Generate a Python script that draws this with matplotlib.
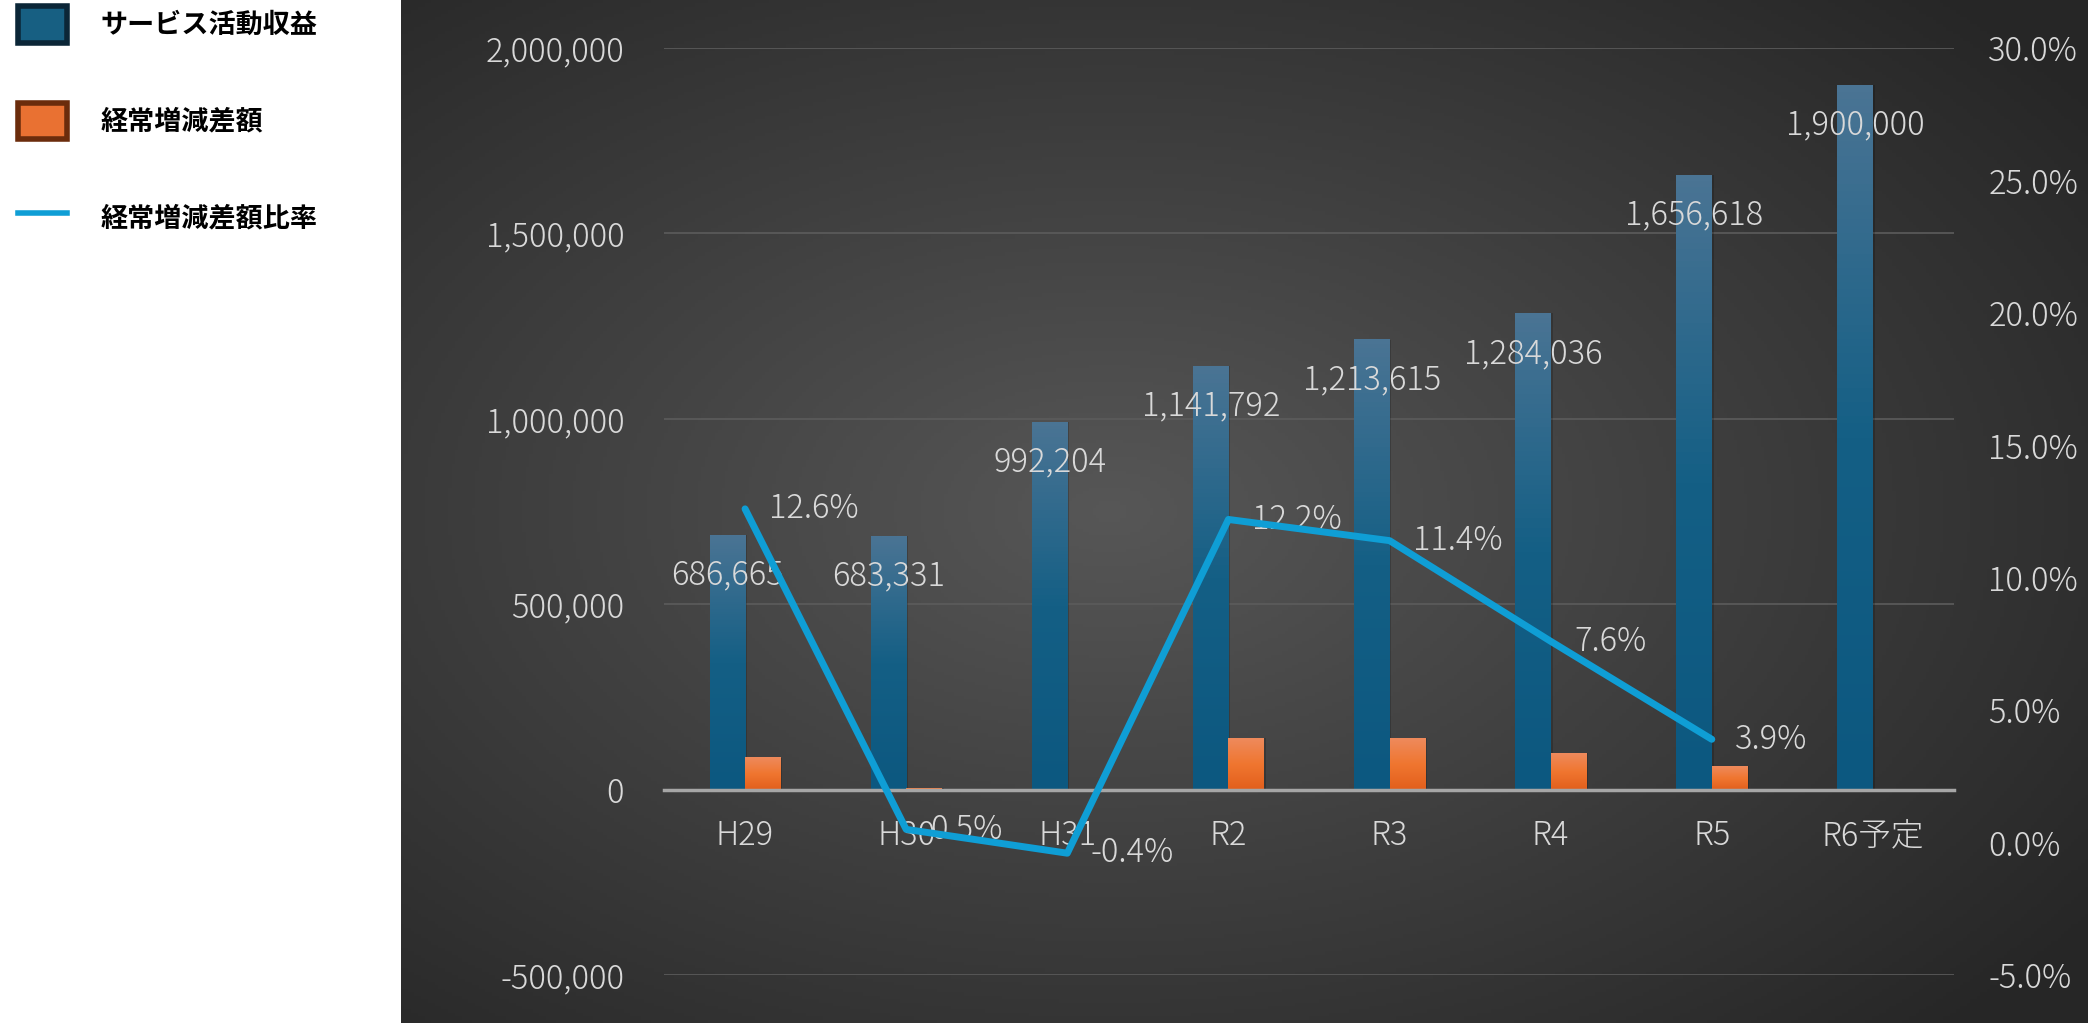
import numpy as np
import matplotlib.pyplot as plt
from matplotlib.colors import LinearSegmentedColormap
from matplotlib.lines import Line2D
from matplotlib.patches import Patch

plt.rcParams['font.family'] = ['Noto Sans CJK JP', 'DejaVu Sans']

# data
categories = ['H29', 'H30', 'H31', 'R2', 'R3', 'R4', 'R5', 'R6予定']
revenue = [686665, 683331, 992204, 1141792, 1213615, 1284036, 1656618, 1900000]
diff = [86500, 3400, -4000, 139300, 138400, 97600, 64600]
ratio = [12.6, 0.5, -0.4, 12.2, 11.4, 7.6, 3.9]
legend_labels = ['サービス活動収益', '経常増減差額', '経常増減差額比率']

W, H = 2088, 1023
fig = plt.figure(figsize=(W / 100, H / 100), dpi=100)
fig.patch.set_facecolor('white')

# dark radial background panel
bx0 = 401 / W
bg = fig.add_axes([bx0, 0, 1 - bx0, 1])
bg.set_axis_off()
yy, xx = np.mgrid[0:1:300j, 0:1:500j]
r = np.sqrt(((xx - 0.42) / 0.75) ** 2 + ((yy - 0.5) / 0.75) ** 2)
shade = np.clip(0.34 - 0.2 * r, 0.15, 0.34)
bg.imshow(np.dstack([shade] * 3), aspect='auto', extent=[0, 1, 0, 1])

ax = fig.add_axes([499 / 1568, 36 / 768, (1467 - 499) / 1568, (732 - 36) / 768])
ax.patch.set_alpha(0)
ax2 = ax.twinx()

x = np.arange(len(categories))
bw = 0.22
txt = '#D9D9D9'
fs = 23.5
fw = 'light'

blue_cmap = LinearSegmentedColormap.from_list('b', ['#0C5880', '#145F85', '#4A7494'])
orange_cmap = LinearSegmentedColormap.from_list('o', ['#E25F1C', '#F07630', '#EE8A5C'])
grad = np.linspace(0, 1, 100).reshape(-1, 1)

def grad_bar(xc, h, cmap):
    y0, y1 = (0, h) if h >= 0 else (h, 0)
    # soft shadow
    ax.bar(xc + 0.012, h, bw, color='black', alpha=0.18, zorder=2, linewidth=0)
    ax.imshow(grad, cmap=cmap, origin='lower', aspect='auto', zorder=3,
              extent=[xc - bw / 2, xc + bw / 2, y0, y1])

for i, v in enumerate(revenue):
    grad_bar(x[i] - bw / 2, v, blue_cmap)
    ax.annotate(f'{v:,}', (x[i] - bw / 2, v), xytext=(0, -29), textcoords='offset points',
                ha='center', va='center', color=txt, fontsize=fs, fontweight=fw, zorder=6)
for i, v in enumerate(diff):
    grad_bar(x[i] + bw / 2, v, orange_cmap)

ax.set_xlim(-0.5, len(categories) - 0.5)
ax.set_ylim(-500000, 2000000)
ax.set_yticks([-500000, 0, 500000, 1000000, 1500000, 2000000])
ax.set_yticklabels([f'{t:,}' for t in ax.get_yticks().astype(int)], fontweight=fw)
ax.grid(axis='y', color='#5C5C5C', linewidth=1.2, zorder=0)
ax.set_axisbelow(True)
ax.spines['bottom'].set_position(('data', 0))
ax.spines['bottom'].set_color('#A6A6A6')
ax.spines['bottom'].set_linewidth(2.5)
ax.spines['bottom'].set_zorder(4)
for s in ['top', 'left', 'right']:
    ax.spines[s].set_visible(False)
ax.set_xticks(x)
ax.set_xticklabels(categories, fontweight=fw)
ax.tick_params(axis='x', length=0, pad=21, labelsize=fs, labelcolor=txt)
ax.tick_params(axis='y', length=0, pad=29, labelsize=fs, labelcolor=txt)

# ratio line
xl = x[:len(ratio)]
ax2.plot(xl, ratio, color='#0F9ED5', linewidth=5, solid_capstyle='round',
         solid_joinstyle='round', zorder=5)
for xi, v in zip(xl, ratio):
    ax2.annotate(f'{v:.1f}%', (xi, v), xytext=(17, 0), textcoords='offset points',
                 ha='left', va='center', color=txt, fontsize=fs, fontweight=fw)
ax2.set_ylim(-5, 30)
ax2.set_yticks(np.arange(-5, 31, 5))
ax2.set_yticklabels([f'{t:.1f}%' for t in np.arange(-5, 31, 5)], fontweight=fw)
ax2.tick_params(axis='y', length=0, pad=25, labelsize=fs, labelcolor=txt)
for s in ax2.spines.values():
    s.set_visible(False)
ax2.set_xlim(-0.5, len(categories) - 0.5)

# legend in white panel
handles = [Patch(facecolor='#175F82', edgecolor='#0B2637', linewidth=4),
           Patch(facecolor='#E97132', edgecolor='#6B2C0C', linewidth=4),
           Line2D([0], [0], color='#0F9ED5', linewidth=4)]
fig.legend(handles, legend_labels, loc='upper left', bbox_to_anchor=(18 / W, 1 - 6 / H),
           frameon=False, prop={'size': 19.5, 'weight': 'bold'}, handlelength=1.8,
           handleheight=1.7, labelspacing=2.22, handletextpad=1.25,
           borderpad=0, borderaxespad=0)

fig.savefig('out.png', dpi=100)
